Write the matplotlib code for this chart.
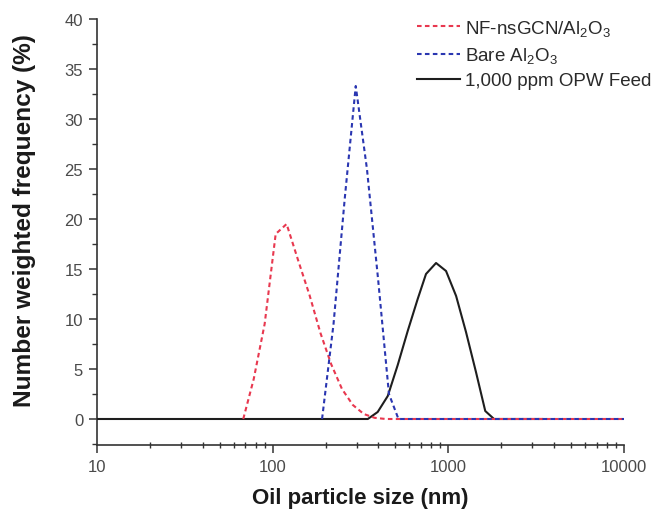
import matplotlib
matplotlib.use("Agg")
import matplotlib.pyplot as plt
from matplotlib.ticker import LogLocator, MultipleLocator, FixedLocator, NullFormatter

plt.rcParams['font.family'] = ['Liberation Sans', 'DejaVu Sans']
plt.rcParams['mathtext.default'] = 'regular'

# Data
nf_size = [68, 78, 90, 104, 120, 140, 162, 187, 215, 248, 286, 330, 380, 440, 10000]
nf_freq = [0, 4.0, 9.5, 18.5, 19.5, 15.8, 12.4, 8.6, 5.5, 3.0, 1.4, 0.5, 0.12, 0, 0]

bare_size = [191, 222, 257, 297, 344, 398, 459, 520, 10000]
bare_freq = [0, 9.5, 22.0, 33.3, 25.0, 14.0, 2.5, 0, 0]

feed_size = [10, 348, 396, 452, 515, 587, 669, 746, 851, 970, 1107, 1260, 1436, 1622, 1820, 3420]
feed_freq = [0, 0, 0.7, 2.3, 5.4, 8.8, 12.0, 14.5, 15.6, 14.8, 12.3, 8.7, 4.7, 0.8, 0, 0]

labels = [r'NF-nsGCN/Al$_2$O$_3$', r'Bare Al$_2$O$_3$', '1,000 ppm OPW Feed']
x_ticks = [10, 100, 1000, 10000]
y_ticks = [0, 5, 10, 15, 20, 25, 30, 35, 40]

fig = plt.figure(figsize=(6.52, 5.10), dpi=100)
ax = fig.add_axes([0.1488, 0.1255, 0.8083, 0.8353])

dash = (0, (2.2, 1.6))
ax.plot(feed_size, feed_freq, color='#1e1e1e', lw=1.5, label=labels[2], zorder=3)
ax.plot(nf_size, nf_freq, color='#e8384f', lw=1.5, ls=dash, label=labels[0], zorder=4)
ax.plot(bare_size, bare_freq, color='#2a36b1', lw=1.5, ls=dash, label=labels[1], zorder=5)

ax.set_xscale('log')
ax.set_xlim(10, 10000)
ax.set_ylim(-2.6, 40)
ax.xaxis.set_major_locator(FixedLocator(x_ticks))
ax.set_xticklabels([str(t) for t in x_ticks])
ax.xaxis.set_minor_locator(LogLocator(base=10, subs=range(2, 10)))
ax.xaxis.set_minor_formatter(NullFormatter())
ax.set_yticks(y_ticks)
ax.yaxis.set_minor_locator(MultipleLocator(2.5))

for s in ['top', 'right']:
    ax.spines[s].set_visible(False)
for s in ['left', 'bottom']:
    ax.spines[s].set_color('#333333')
    ax.spines[s].set_linewidth(1.2)

ax.tick_params(axis='both', which='major', direction='out', length=6, width=1.1,
               color='#333333', labelsize=12, labelcolor='#4a4a4a')
ax.tick_params(axis='y', which='minor', direction='out', length=3.5, width=1.0, color='#333333')
ax.tick_params(axis='x', which='minor', direction='inout', length=5, width=1.0, color='#333333')
ax.tick_params(axis='x', which='major', pad=4)
ax.tick_params(axis='y', which='major', pad=4)

ax.set_xlabel('Oil particle size (nm)', fontsize=16, fontweight='bold', color='#1a1a1a', labelpad=9.5)
ax.set_ylabel('Number weighted frequency (%)', fontsize=17.6, fontweight='bold', color='#1a1a1a')
ax.yaxis.set_label_coords((36 - 97) / 527, (446 - 221) / 426)

handles, labs = ax.get_legend_handles_labels()
order = [1, 2, 0]
leg = ax.legend([handles[i] for i in order], [labs[i] for i in order],
                loc='upper left', bbox_to_anchor=(417 / 652, 1 - 19 / 510),
                bbox_transform=fig.transFigure, frameon=False,
                borderaxespad=0, borderpad=0,
                fontsize=13.5, handlelength=2.3, handletextpad=0.27, labelspacing=0.38,
                labelcolor='#2a2a2a')

fig.savefig('out.png', dpi=100)
